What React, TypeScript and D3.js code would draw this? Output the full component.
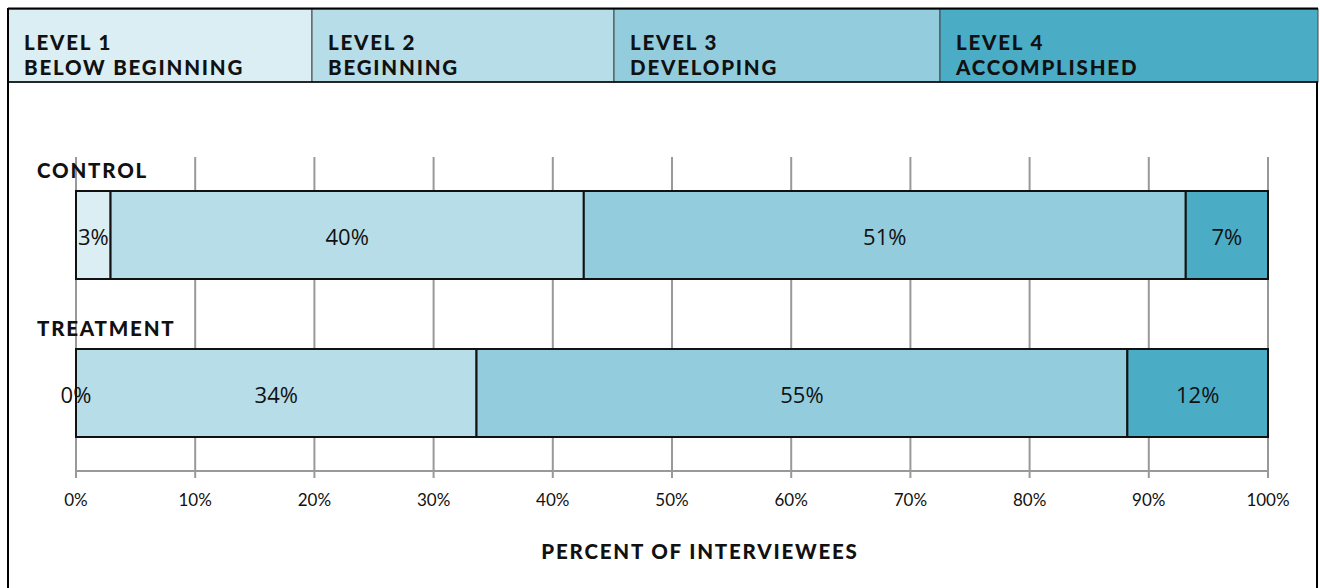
import React, { useMemo } from 'react';
import * as d3 from 'd3';

const groups = ['CONTROL', 'TREATMENT'];
const levels = ['LEVEL 1', 'LEVEL 2', 'LEVEL 3', 'LEVEL 4'];
const levelNames = ['BELOW BEGINNING', 'BEGINNING', 'DEVELOPING', 'ACCOMPLISHED'];
const controlValues = [2.9, 39.7, 50.5, 6.9];
const treatmentValues = [0, 33.6, 54.6, 11.8];
const ticks = [0, 10, 20, 30, 40, 50, 60, 70, 80, 90, 100];
const axisTitle = 'PERCENT OF INTERVIEWEES';

const W = 1320;
const H = 588;
const colors = ['#dbeef4', '#b7dde8', '#93cddd', '#4bacc6'];
const headerEdges = [8, 312, 614, 940, 1318];
const gill = 'Lato, "DejaVu Sans", sans-serif';
const calibri = '"Open Sans", "Liberation Sans", sans-serif';

export default function App() {
  const x = useMemo(() => d3.scaleLinear().domain([0, 100]).range([76, 1268]), []);
  const y = useMemo(
    () => d3.scaleBand<string>().domain(groups).range([191, 437]).paddingInner(70 / 88 / (1 + 70 / 88)),
    []
  );
  const series = [controlValues, treatmentValues];
  const bold = { fontFamily: gill, fontWeight: 900, fontSize: 20.5, letterSpacing: 1.8, fill: '#111' };

  return (
    <svg width={W} height={H} style={{ position: 'absolute', left: 0, top: 0, background: '#fff' }}>
      {/* header legend */}
      {levels.map((lv, i) => (
        <g key={lv}>
          <rect x={headerEdges[i]} y={9} width={headerEdges[i + 1] - headerEdges[i]} height={73} fill={colors[i]} stroke="#444" strokeWidth={1} />
          <text x={headerEdges[i] + 16} y={50} {...bold}>{lv}</text>
          <text x={headerEdges[i] + 16} y={75} {...bold}>{levelNames[i]}</text>
        </g>
      ))}
      <line x1={8} x2={1318} y1={8.5} y2={8.5} stroke="#000" strokeWidth={2} />
      <line x1={8} x2={1318} y1={82} y2={82} stroke="#000" strokeWidth={1.5} />
      <line x1={8} x2={8} y1={8} y2={H} stroke="#000" strokeWidth={2} />
      <line x1={1317} x2={1317} y1={82} y2={H} stroke="#000" strokeWidth={2} />

      {/* grid */}
      {ticks.map((t) => (
        <line key={t} x1={x(t)} x2={x(t)} y1={157} y2={478} stroke="#999" strokeWidth={2} />
      ))}
      <line x1={x(0)} x2={x(100)} y1={471} y2={471} stroke="#999" strokeWidth={2} />

      {/* bars */}
      {groups.map((g, gi) => {
        const vals = series[gi];
        const starts = d3.cumsum([0, ...vals]);
        const y0 = y(g) as number;
        const bh = y.bandwidth();
        return (
          <g key={g}>
            <text x={37} y={y0 - 13} {...bold}>{g}</text>
            {vals.map((v, i) => (
              <rect key={i} x={x(starts[i])} y={y0} width={x(starts[i] + v) - x(starts[i])} height={bh} fill={colors[i]} stroke="#111" strokeWidth={2} />
            ))}
            {vals.map((v, i) => (
              <text key={'l' + i} x={x(starts[i] + v / 2)} y={y0 + bh / 2 + 10} textAnchor="middle" fontFamily={calibri} fontSize={22} fill="#111">
                {Math.round(v)}%
              </text>
            ))}
          </g>
        );
      })}

      {/* ticks */}
      {ticks.map((t) => (
        <text key={'t' + t} x={x(t)} y={506} textAnchor="middle" fontFamily={gill} fontSize={17} fill="#111">{t}%</text>
      ))}
      <text x={700} y={559} textAnchor="middle" {...bold}>{axisTitle}</text>
    </svg>
  );
}
